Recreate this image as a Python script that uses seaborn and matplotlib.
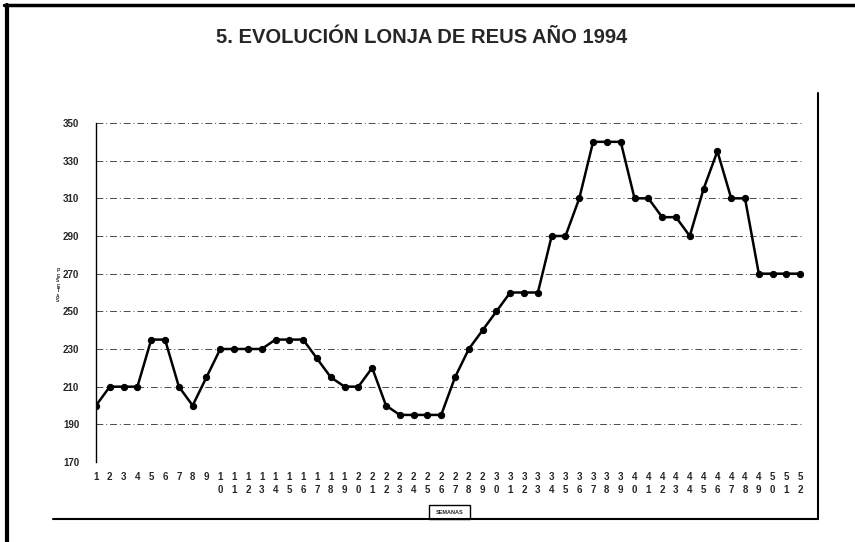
import matplotlib
matplotlib.use('Agg')

import pandas as pd
import matplotlib.pyplot as plt
import seaborn as sns
from matplotlib.lines import Line2D
from matplotlib.patches import Rectangle

# weekly price, Lonja de Reus 1994 (pesetas)
semanas = list(range(1, 53))
precio = [200, 210, 210, 210, 235, 235, 210, 200, 215, 230,
          230, 230, 230, 235, 235, 235, 225, 215, 210, 210,
          220, 200, 195, 195, 195, 195, 215, 230, 240, 250,
          260, 260, 260, 290, 290, 310, 340, 340, 340, 310,
          310, 300, 300, 290, 315, 335, 310, 310, 270, 270,
          270, 270]
y_ticks = [170, 190, 210, 230, 250, 270, 290, 310, 330, 350]

titulo = '5. EVOLUCIÓN LONJA DE REUS AÑO 1994'
eje_y = 'PESETAS'
eje_x = 'SEMANAS'

df = pd.DataFrame({'semana': semanas, 'precio': precio})

sns.set_style('white')
plt.rcParams['font.family'] = ['Liberation Sans', 'DejaVu Sans']

W, H = 855, 542
fig = plt.figure(figsize=(W / 100, H / 100), dpi=100)
ax = fig.add_axes([96 / W, 1 - 462 / H, (803 - 96) / W, (462 - 123) / H])

# photocopied-looking horizontal gridlines
for v in y_ticks:
    ax.axhline(v, color='#4a4a4a', lw=0.7, ls=(0, (7, 3, 1, 3)), zorder=1)

sns.lineplot(data=df, x='semana', y='precio', ax=ax, color='black',
             lw=1.8, marker='o', markersize=4.5, markeredgecolor='black',
             zorder=3)

ax.set_xlim(1, 52.2)
ax.set_ylim(170, 350)
ax.set_yticks(y_ticks)
ax.set_yticklabels([str(v) for v in y_ticks], fontsize=7, fontweight='bold')
ax.set_xticks(semanas)
ax.set_xticklabels(['\n'.join(str(s)) for s in semanas], fontsize=7,
                   fontweight='bold', linespacing=1.35, va='top')
ax.tick_params(axis='x', direction='inout', length=7, width=0.8, pad=4)
ax.tick_params(axis='y', direction='out', length=4, width=0.8, pad=8)
ax.set_xlabel('')
ax.set_ylabel('')

for s in ['top', 'right', 'bottom']:
    ax.spines[s].set_visible(False)
ax.spines['left'].set_linewidth(1.0)
ax.spines['left'].set_color('black')

# stacked axis label on the left
fig.text(58 / W, 1 - 286 / H, '\n'.join(eje_y), fontsize=3.5,
         fontweight='bold', ha='center', va='center', linespacing=1.0)

fig.text(422 / W, 1 - 38 / H, titulo, fontsize=14.5, fontweight='bold',
         ha='center', va='center', fontstretch='condensed',
         family=['Liberation Sans Narrow', 'Liberation Sans', 'DejaVu Sans'])

# page frame lines
def fline(x0, y0, x1, y1, lw):
    fig.add_artist(Line2D([x0 / W, x1 / W], [1 - y0 / H, 1 - y1 / H],
                          transform=fig.transFigure, color='black', lw=lw))

fline(4, 5, 855, 5, 2.5)
fline(7, 5, 7, 542, 3.0)
fline(818, 93, 818, 519, 1.5)
fline(53, 519, 818, 519, 1.5)

# boxed x label
fig.add_artist(Rectangle((429 / W, 1 - 519 / H), 41 / W, 14 / H,
                         transform=fig.transFigure, fill=False,
                         edgecolor='black', lw=1.0))
fig.text(449.5 / W, 1 - 512 / H, eje_x, fontsize=4, fontweight='bold',
         ha='center', va='center')

fig.savefig('out.png', dpi=100)
